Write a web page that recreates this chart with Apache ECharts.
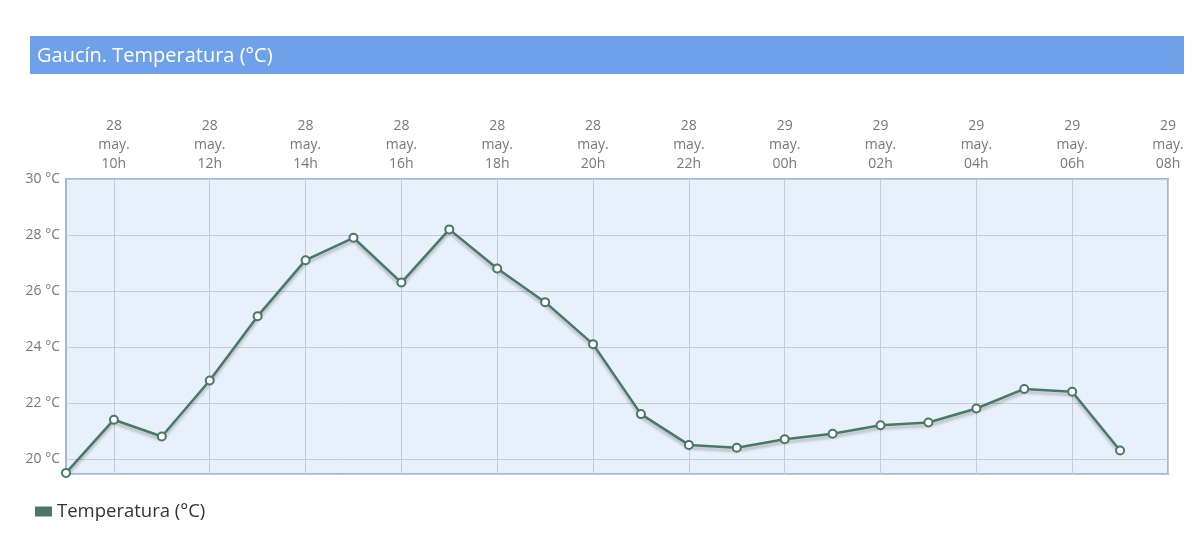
<!DOCTYPE html>
<html>
<head>
<meta charset="UTF-8">
<title>Gaucín. Temperatura</title>
<script src="https://cdn.jsdelivr.net/npm/echarts@6/dist/echarts.min.js"></script>
<style>
  html, body { margin: 0; padding: 0; background: #fff; }
  #chart { width: 1200px; height: 544px; }
</style>
</head>
<body>
<div id="chart"></div>
<script>
// hours from 28 may 09h to 29 may 08h
var days = ['28','28','28','28','28','28','28','28','28','28','28','28','28','28','28',
            '29','29','29','29','29','29','29','29','29'];
var hours = ['09h','10h','11h','12h','13h','14h','15h','16h','17h','18h','19h','20h','21h','22h','23h',
             '00h','01h','02h','03h','04h','05h','06h','07h','08h'];
var temperatura = [19.5, 21.4, 20.8, 22.8, 25.1, 27.1, 27.9, 26.3, 28.2, 26.8, 25.6, 24.1,
                   21.6, 20.5, 20.4, 20.7, 20.9, 21.2, 21.3, 21.8, 22.5, 22.4, 20.3];
var yMin = 19.46, yMax = 30;

var categories = [];
for (var i = 0; i < hours.length; i++) {
  categories.push(days[i] + '\nmay.\n' + hours[i]);
}

var chart = echarts.init(document.getElementById('chart'));
var font = '"Open Sans", "Noto Sans", sans-serif';
var lineColor = '#4a7766';

var option = {
  animation: false,
  textStyle: { fontFamily: font },
  graphic: [
    {
      type: 'rect',
      left: 30, top: 36,
      shape: { width: 1154, height: 38 },
      style: { fill: '#6fa0ea' }
    },
    {
      type: 'text',
      left: 37, top: 46,
      style: { text: 'Gaucín. Temperatura (°C)', fill: '#fff', fontSize: 20, fontFamily: font }
    }
  ],
  legend: {
    left: 30, top: 497,
    icon: 'rect',
    itemWidth: 17, itemHeight: 10, itemGap: 6,
    itemStyle: { color: lineColor, borderWidth: 0 },
    textStyle: { fontSize: 18.5, color: '#333', fontFamily: font },
    data: ['Temperatura (°C)']
  },
  grid: {
    left: 66, right: 32, top: 179, bottom: 70,
    show: true,
    backgroundColor: '#e8f0fb',
    borderColor: '#9db8dc',
    borderWidth: 2
  },
  xAxis: {
    type: 'category',
    position: 'top',
    boundaryGap: false,
    data: categories,
    axisLine: { show: false },
    axisTick: { show: false },
    axisLabel: {
      interval: function (index) { return index % 2 === 1; },
      color: '#777',
      fontSize: 14,
      lineHeight: 19,
      margin: 5,
      fontFamily: font
    },
    splitLine: { show: true, lineStyle: { color: '#c3cad6', width: 1 } }
  },
  yAxis: {
    type: 'value',
    min: yMin,
    max: yMax,
    splitNumber: 5,
    axisLine: { show: false },
    axisTick: { show: false },
    axisLabel: {
      showMinLabel: false,
      color: '#777',
      fontSize: 14,
      margin: 6,
      fontFamily: font,
      formatter: function (v) { return Math.round(v) + ' °C'; }
    },
    splitLine: { show: true, lineStyle: { color: '#c3cad6', width: 1 } }
  },
  series: [
    {
      name: 'Temperatura (°C)',
      type: 'line',
      data: temperatura,
      symbol: 'circle',
      symbolSize: 8,
      clip: false,
      color: lineColor,
      lineStyle: {
        color: lineColor,
        width: 2.5,
        shadowColor: 'rgba(0,0,0,0.25)',
        shadowBlur: 3,
        shadowOffsetY: 3
      },
      itemStyle: {
        color: '#fff',
        borderColor: lineColor,
        borderWidth: 2
      }
    }
  ]
};
chart.setOption(option);
window.onresize = chart.resize;
</script>
</body>
</html>
